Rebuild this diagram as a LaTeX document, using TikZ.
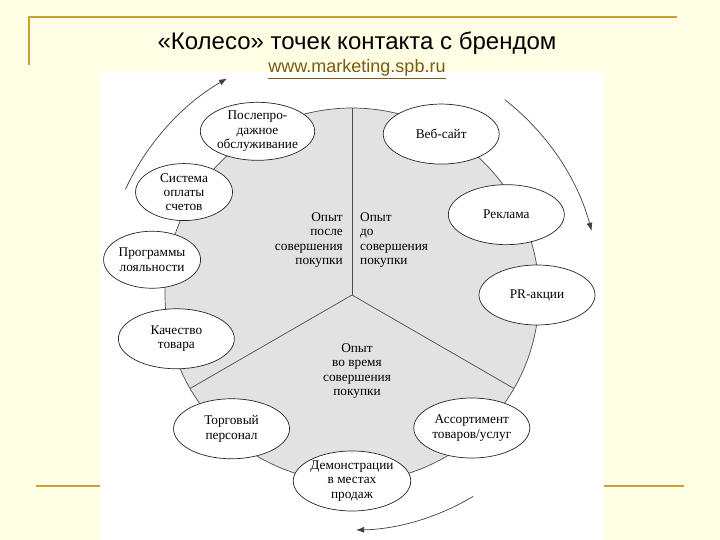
\documentclass[tikz,border=0pt]{standalone}
\usepackage{fontspec}
\setmainfont{Liberation Serif}
\newfontfamily\slidefont{Liberation Sans}
\usepackage{tikz}
\usetikzlibrary{arrows.meta,positioning,calc,shapes.geometric}
\definecolor{slidebg}{HTML}{FFFFE6}
\definecolor{gold}{HTML}{C9A233}
\definecolor{urlbrown}{HTML}{7A5A12}
\definecolor{wheelgray}{HTML}{E2E2E2}
\newcommand{\diagfont}{\fontsize{13.3}{14.3}\selectfont}
\tikzset{
  spot/.style  ={ellipse,draw=black!85,fill=white,line width=0.7pt,minimum width=116pt,minimum height=60pt,inner sep=0pt,align=center,font=\diagfont},
  small/.style ={spot,minimum width=97pt,minimum height=57pt},
  phase/.style ={inner sep=0pt,font=\diagfont},
  flow/.style  ={-{Latex[length=8pt,width=6pt]},black!75,line width=0.7pt},
  rule/.style  ={gold,line width=2pt},
  spoke/.style ={black!70,line width=0.7pt},
}

\begin{document}
\begin{tikzpicture}[x=1pt,y=1pt]
  % slide
  \fill[slidebg] (0,0) rectangle (720,540);
  \useasboundingbox (0,0) rectangle (720,540);
  \draw[rule] (29,475) -- (29,523) -- (677,523);
  \draw[rule] (36,54) -- (684,54);
  \fill[white] (100,0) rectangle (604,468);
  \node[font=\slidefont\fontsize{24}{28}\selectfont] (title) at (357,497) {«Колесо» точек контакта с брендом};
  \node[font=\slidefont\fontsize{18}{21}\selectfont,text=urlbrown] (url) at (357,471) {\underline{www.marketing.spb.ru}};
  % wheel
  \coordinate (hub) at (352,245);
  \fill[wheelgray] (hub) circle[radius=187];
  \draw[spoke] (hub) circle[radius=187];
  \foreach \a in {90,210,330}
    \draw[spoke] (hub) -- ($(hub)+(\a:187)$);
  \node[phase,anchor=east,align=right] (after)  at ($(hub)+(-9,55)$) {Опыт\\после\\совершения\\покупки};
  \node[phase,anchor=west,align=left]  (before) at ($(hub)+(8,55)$)  {Опыт\\до\\совершения\\покупки};
  \node[phase,align=center]            (during) at ($(hub)+(5,-76)$) {Опыт\\во время\\совершения\\покупки};
  % touch points
  \node[spot]  (web)     at ($(hub)+(61:184)$)  {Веб-сайт};
  \node[spot]  (ads)     at ($(hub)+(27.5:174)$) {Реклама};
  \node[spot]  (pr)      at ($(hub)+(0:185)$)   {PR-акции};
  \node[spot]  (range)   at ($(hub)+(312:179)$) {Ассортимент\\товаров/услуг};
  \node[spot]  (demo)    at ($(hub)+(270:186)$) {Демонстрации\\в местах\\продаж};
  \node[spot]  (staff)   at ($(hub)+(228:180)$) {Торговый\\персонал};
  \node[spot]  (quality) at ($(hub)+(194:181)$) {Качество\\товара};
  \node[small] (loyal)   at ($(hub)+(170:203)$) {Программы\\лояльности};
  \node[small] (billing) at ($(hub)+(148.5:197)$) {Система\\оплаты\\счетов};
  \node[spot,minimum width=113pt,minimum height=58pt] (service) at ($(hub)+(120:189)$) {Послепро-\\дажное\\обслуживание};
  % direction arrows
  \coordinate (f1) at ($(hub)+(155:250)$);
  \coordinate (f2) at ($(hub)+(52:248)$);
  \coordinate (f3) at ($(hub)+(-59:235)$);
  \draw[flow] (f1) arc[start angle=155,end angle=120,radius=250];
  \draw[flow] (f2) arc[start angle=52,end angle=15,radius=248];
  \draw[flow] (f3) arc[start angle=-59,end angle=-89,radius=235];
\end{tikzpicture}
\end{document}
